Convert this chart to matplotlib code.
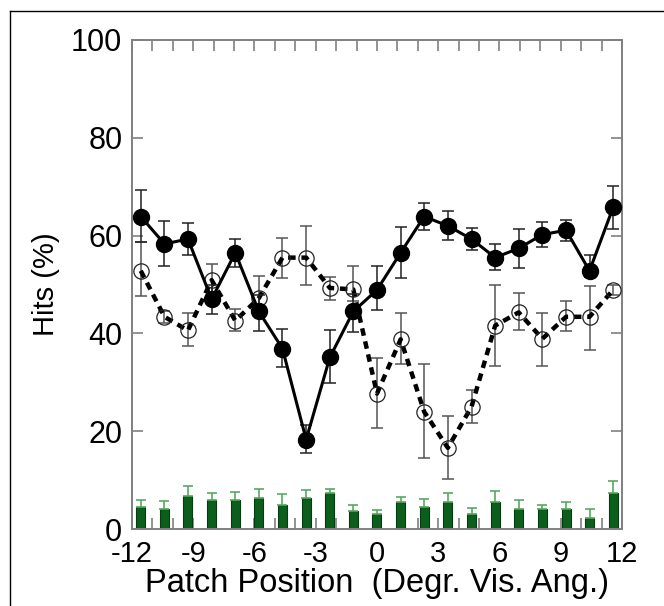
import matplotlib
matplotlib.use("Agg")
import matplotlib.pyplot as plt
from matplotlib.lines import Line2D

plt.rcParams['font.family'] = ['Liberation Sans', 'DejaVu Sans']

# patch positions (deg. visual angle)
pos = [-11.57, -10.41, -9.26, -8.10, -6.94, -5.79, -4.63, -3.47, -2.31, -1.16, 0.0,
       1.16, 2.31, 3.47, 4.63, 5.79, 6.94, 8.10, 9.26, 10.41, 11.57]

# filled circles, solid line
hits_a = [63.9, 58.3, 59.3, 47.0, 56.5, 44.5, 36.9, 18.3, 35.1, 44.5, 48.9,
          56.5, 63.9, 62.0, 59.3, 55.5, 57.4, 60.2, 61.1, 52.8, 65.8]
err_a_lo = [5.3, 4.5, 3.3, 3.0, 3.0, 4.1, 3.8, 2.8, 5.2, 4.3, 4.1,
            5.2, 2.7, 2.8, 2.2, 2.5, 4.0, 2.5, 2.1, 1.3, 4.5]
err_a_hi = [5.4, 4.7, 3.2, 3.0, 2.9, 3.4, 4.0, 3.0, 5.5, 3.5, 4.9,
            5.2, 2.7, 3.0, 2.2, 2.7, 3.9, 2.6, 2.1, 3.2, 4.4]

# open circles, dashed line
hits_b = [52.8, 43.4, 40.6, 50.9, 42.6, 47.2, 55.5, 55.5, 49.3, 49.0, 27.7,
          38.8, 24.0, 16.6, 25.0, 41.6, 44.3, 38.9, 43.4, 43.4, 48.9]
err_b_lo = [5.1, 1.2, 3.1, 3.0, 2.2, 3.5, 4.1, 5.6, 2.5, 2.3, 7.1,
            5.1, 9.5, 6.4, 3.4, 8.3, 3.6, 5.5, 3.0, 6.8, 1.0]
err_b_hi = [5.8, 1.2, 3.5, 3.2, 2.3, 4.6, 4.1, 6.5, 2.3, 4.8, 7.2,
            5.3, 9.7, 6.5, 3.4, 8.4, 3.9, 5.3, 3.3, 6.2, 1.0]

# green bars (catch / false alarms)
bars = [4.5, 4.1, 6.8, 5.9, 5.9, 6.4, 5.0, 6.4, 7.3, 3.7, 3.1,
        5.5, 4.5, 5.5, 3.1, 5.5, 4.1, 4.1, 4.1, 2.3, 7.3]
bars_err = [1.4, 1.6, 1.9, 1.4, 1.7, 1.7, 2.1, 1.6, 0.9, 1.3, 0.8,
            1.1, 1.6, 1.9, 1.3, 2.3, 1.9, 0.9, 1.4, 1.7, 2.5]

fig = plt.figure(figsize=(6.64, 6.06), dpi=100)
ax = fig.add_axes([0.1988, 0.127, 0.7379, 0.807])

# bars
ax.bar(pos, bars, width=0.44, color='#0b5e1c', edgecolor='#063d10', linewidth=0.8, zorder=2)
ax.errorbar(pos, bars, yerr=[[0] * len(bars), bars_err], fmt='none', ecolor='#5aa860',
            elinewidth=1.2, capsize=3.5, capthick=1.2, zorder=2)

# open circles
ax.errorbar(pos, hits_b, yerr=[err_b_lo, err_b_hi], fmt='none', ecolor='#555555',
            elinewidth=1.1, capsize=4, capthick=1.1, zorder=3)
ax.plot(pos, hits_b, color='black', linestyle=(0, (1.7, 1.3)), linewidth=3.2,
        marker='o', markersize=11, markerfacecolor='none', markeredgecolor='#222222',
        markeredgewidth=0.9, zorder=4)

# filled circles
ax.errorbar(pos, hits_a, yerr=[err_a_lo, err_a_hi], fmt='none', ecolor='#222222',
            elinewidth=1.1, capsize=4, capthick=1.1, zorder=5)
ax.plot(pos, hits_a, color='black', linewidth=2.2, marker='o', markersize=11.5,
        markerfacecolor='black', markeredgecolor='black', zorder=6)

ax.set_xlim(-12, 12)
ax.set_ylim(0, 100)
ax.set_xticks(range(-12, 13, 3))
ax.set_xticklabels([str(v) for v in range(-12, 13, 3)])
ax.set_xticks(range(-12, 13), minor=True)
ax.set_yticks(range(0, 101, 20))

for s in ax.spines.values():
    s.set_color('#808080')
    s.set_linewidth(1.4)

ax.tick_params(axis='x', which='both', direction='in', top=True, bottom=True,
               length=8, width=1.2, color='#808080', labelsize=21, pad=8)
ax.tick_params(axis='y', which='both', direction='in', left=True, right=True,
               length=8, width=1.2, color='#808080', labelsize=22, pad=7)

ax.set_xlabel('Patch Position  (Degr. Vis. Ang.)', fontsize=23.5, labelpad=0)
ax.set_ylabel('Hits (%)', fontsize=21, labelpad=8)

# outer frame (left and top edges)
fx = 10 / 664
fy = 1 - 11 / 606
fig.add_artist(Line2D([fx, fx], [0, fy], color='black', linewidth=1.0))
fig.add_artist(Line2D([fx, 1], [fy, fy], color='black', linewidth=1.0))

fig.savefig('out.png', dpi=100)
